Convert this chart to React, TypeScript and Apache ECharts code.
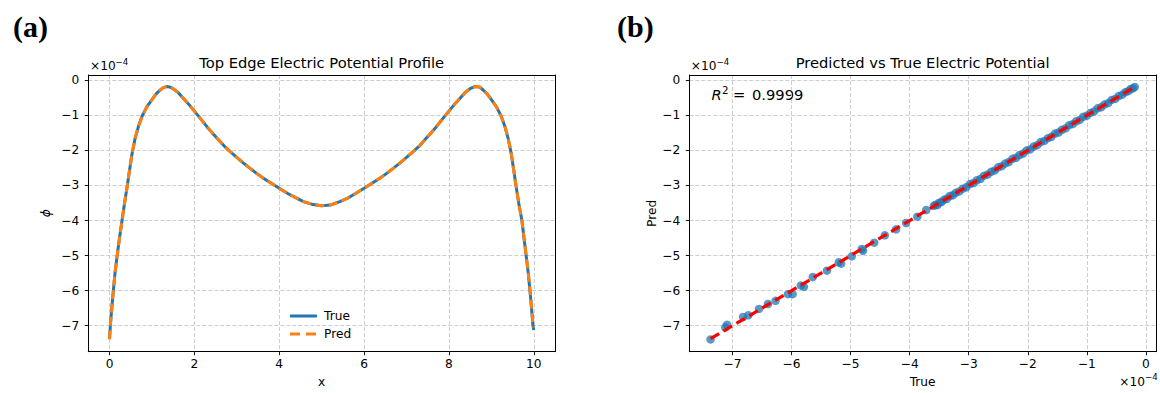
import React, { useEffect, useRef } from 'react';
import * as echarts from 'echarts';

// ---- Data (values in units of 1e-4) ----
const profileX = [0, 0.02, 0.05, 0.09, 0.13, 0.18, 0.235, 0.295, 0.355, 0.42, 0.47, 0.53, 0.6, 0.68, 0.77, 0.88, 1.0, 1.1, 1.2, 1.27, 1.34, 1.42, 1.5, 1.6, 1.7, 1.85, 2.0, 2.15, 2.3, 2.45, 2.6, 2.7, 2.81, 3.0, 3.15, 3.3, 3.45, 3.6, 3.73, 3.87, 4.0, 4.2, 4.4, 4.57, 4.8, 5.0,
  5.2, 5.43, 5.6, 5.8, 6.0, 6.13, 6.27, 6.4, 6.55, 6.7, 6.85, 7.0, 7.19, 7.3, 7.4, 7.55, 7.7, 7.85, 8.0, 8.15, 8.3, 8.4, 8.5, 8.58, 8.66, 8.73, 8.8, 8.9, 9.0, 9.12, 9.23, 9.32, 9.4, 9.47, 9.53, 9.58, 9.645, 9.72, 9.77, 9.82, 9.87, 9.91, 9.95, 9.98, 10.0];
const profileTrue = [-7.37, -7.0, -6.55, -6.0, -5.5, -5.0, -4.5, -4.0, -3.5, -3.0, -2.58, -2.1, -1.68, -1.32, -1.02, -0.76, -0.55, -0.39, -0.27, -0.21, -0.18, -0.195, -0.24, -0.33, -0.46, -0.66, -0.88, -1.1, -1.33, -1.54, -1.74, -1.87, -2.0, -2.2, -2.355, -2.5, -2.64, -2.77, -2.875, -2.98, -3.08, -3.23, -3.355, -3.46, -3.545, -3.58,
  -3.56, -3.46, -3.37, -3.23, -3.08, -2.98, -2.87, -2.77, -2.64, -2.5, -2.355, -2.2, -2.0, -1.88, -1.74, -1.54, -1.33, -1.1, -0.88, -0.66, -0.46, -0.33, -0.24, -0.195, -0.18, -0.2, -0.27, -0.39, -0.55, -0.76, -1.02, -1.32, -1.68, -2.1, -2.58, -3.0, -3.5, -4.0, -4.5, -5.0, -5.5, -6.0, -6.55, -7.0, -7.12];
const profilePred = [-7.39, -6.98, -6.56, -6.01, -5.49, -5.0, -4.51, -4.0, -3.49, -3.0, -2.59, -2.1, -1.67, -1.32, -1.02, -0.76, -0.55, -0.39, -0.27, -0.21, -0.18, -0.195, -0.24, -0.33, -0.46, -0.66, -0.88, -1.1, -1.33, -1.54, -1.74, -1.87, -2.0, -2.2, -2.355, -2.5, -2.64, -2.77, -2.875, -2.98, -3.08, -3.23, -3.355, -3.46, -3.545, -3.58,
  -3.56, -3.46, -3.37, -3.23, -3.08, -2.98, -2.87, -2.77, -2.64, -2.5, -2.355, -2.2, -2.0, -1.88, -1.74, -1.54, -1.33, -1.1, -0.88, -0.66, -0.46, -0.33, -0.24, -0.195, -0.18, -0.2, -0.27, -0.39, -0.55, -0.76, -1.02, -1.32, -1.68, -2.1, -2.58, -3.0, -3.5, -4.0, -4.5, -5.0, -5.49, -5.98, -6.5, -6.95, -7.05];

const scatterTrue = [
  -7.37, -7.12, -7.09, -6.82, -6.73, -6.55, -6.40, -6.27, -6.06, -5.98, -5.84, -5.79, -5.64, -5.40, -5.20, -5.16, -4.98, -4.81, -4.79, -4.60, -4.42, -4.23, -4.06, -3.87, -3.72, -3.59,
  -3.56, -3.53, -3.50, -3.46, -3.42, -3.37, -3.32, -3.27, -3.22, -3.16, -3.10, -3.04, -2.98, -2.92, -2.86, -2.80, -2.74, -2.68, -2.62, -2.56, -2.50, -2.44, -2.38, -2.32, -2.26, -2.20, -2.14, -2.08, -2.02, -1.96, -1.90, -1.84, -1.78, -1.72, -1.66, -1.60, -1.54, -1.48, -1.42, -1.36, -1.30, -1.24, -1.18, -1.12, -1.06, -1.00, -0.94, -0.88, -0.82, -0.76, -0.70, -0.64, -0.58, -0.52, -0.46, -0.40, -0.35, -0.30, -0.26, -0.22, -0.19,
];
const scatterPred = [
  -7.39, -7.05, -6.97, -6.75, -6.70, -6.52, -6.38, -6.29, -6.10, -6.10, -5.85, -5.89, -5.61, -5.43, -5.19, -5.23, -5.02, -4.81, -4.86, -4.63, -4.42, -4.25, -4.07, -3.89, -3.70, -3.58,
  -3.55, -3.56, -3.49, -3.47, -3.41, -3.38, -3.30, -3.28, -3.21, -3.17, -3.09, -3.05, -2.96, -2.93, -2.85, -2.81, -2.72, -2.69, -2.61, -2.57, -2.48, -2.45, -2.37, -2.33, -2.24, -2.21, -2.13, -2.09, -2.00, -1.97, -1.89, -1.85, -1.76, -1.73, -1.65, -1.61, -1.52, -1.49, -1.41, -1.37, -1.28, -1.25, -1.17, -1.13, -1.04, -1.01, -0.93, -0.89, -0.80, -0.77, -0.69, -0.65, -0.56, -0.53, -0.45, -0.41, -0.34, -0.31, -0.25, -0.23, -0.19,
];

const xTicksA = [0, 2, 4, 6, 8, 10];
const yTicks = [-7, -6, -5, -4, -3, -2, -1, 0];
const xTicksB = [-7, -6, -5, -4, -3, -2, -1, 0];
const legendNames = ['True', 'Pred'];
const r2Value = '0.9999';

const FONT = 'DejaVu Sans';
const TICK = 12.2;
const BLUE = '#1f77b4';
const ORANGE = '#ff7f0e';
const fmt = (v: number) => (v < 0 ? '\u2212' + Math.abs(v) : String(v));

const gridLine = { show: true, lineStyle: { color: '#c8c8c8', width: 0.9, type: [4, 2] } };
const axisLine = { show: true, onZero: false, lineStyle: { color: '#000', width: 1 } };
const tickStyle = (vals: number[]) => ({ show: true, inside: false, length: 3.5, customValues: vals, lineStyle: { color: '#000', width: 0.9 } });
const labelStyle = (vals: number[], margin: number) => ({ show: true, customValues: vals, formatter: fmt, color: '#000', fontSize: TICK, fontFamily: FONT, margin });
const nameStyle = { color: '#000', fontSize: TICK, fontFamily: FONT };
const spine = (gridIndex: number, position: string, min: number, max: number) => ({
  gridIndex, type: 'value', position, min, max, axisLine, axisTick: { show: false }, axisLabel: { show: false }, splitLine: { show: false },
});

function txt(x: number, y: number, text: string, size: number, extra: any = {}) {
  return {
    type: 'text', x, y, silent: true,
    style: { text, fill: '#000', fontSize: size, fontFamily: FONT, align: 'left', verticalAlign: 'middle', ...extra },
  };
}

export default function App() {
  const ref = useRef<HTMLDivElement>(null);
  useEffect(() => {
    if (!ref.current) return;
    const chart = echarts.init(ref.current, null, { renderer: 'svg' });
    const lo = Math.min(...scatterTrue);
    const hi = Math.max(...scatterTrue);
    const option: any = {
      animation: false,
      backgroundColor: '#fff',
      grid: [
        { left: 88.3, top: 75, width: 466.7, height: 276.7, outerBoundsMode: 'none' },
        { left: 689.3, top: 75, width: 466.7, height: 276.7, outerBoundsMode: 'none' },
      ],
      xAxis: [
        { gridIndex: 0, type: 'value', position: 'bottom', min: -0.5, max: 10.5, axisLine, axisTick: tickStyle(xTicksA), axisLabel: labelStyle(xTicksA, 6), splitLine: gridLine,
          name: 'x', nameLocation: 'middle', nameGap: 24, nameTextStyle: nameStyle },
        { gridIndex: 1, type: 'value', position: 'bottom', min: -7.73, max: 0.17, axisLine, axisTick: tickStyle(xTicksB), axisLabel: labelStyle(xTicksB, 6), splitLine: gridLine,
          name: 'True', nameLocation: 'middle', nameGap: 24, nameTextStyle: nameStyle },
        spine(0, 'top', -0.5, 10.5),
        spine(1, 'top', -7.73, 0.17),
      ],
      yAxis: [
        { gridIndex: 0, type: 'value', position: 'left', min: -7.74, max: 0.15, axisLine, axisTick: tickStyle(yTicks), axisLabel: labelStyle(yTicks, 9), splitLine: gridLine,
          name: '\u03d5', nameLocation: 'middle', nameRotate: 90, nameGap: 36, nameTextStyle: { ...nameStyle, fontStyle: 'italic' } },
        { gridIndex: 1, type: 'value', position: 'left', min: -7.74, max: 0.15, axisLine, axisTick: tickStyle(yTicks), axisLabel: labelStyle(yTicks, 9), splitLine: gridLine,
          name: 'Pred', nameLocation: 'middle', nameRotate: 90, nameGap: 30, nameTextStyle: nameStyle },
        spine(0, 'right', -7.74, 0.15),
        spine(1, 'right', -7.74, 0.15),
      ],
      series: [
        { type: 'line', name: legendNames[0], xAxisIndex: 0, yAxisIndex: 0, data: profileX.map((x, i) => [x, profileTrue[i]]), symbol: 'none',
          smooth: false, lineStyle: { color: BLUE, width: 3 }, itemStyle: { color: BLUE }, z: 3 },
        { type: 'line', name: legendNames[1], xAxisIndex: 0, yAxisIndex: 0, data: profileX.map((x, i) => [x, profilePred[i]]), symbol: 'none',
          smooth: false, lineStyle: { color: ORANGE, width: 3, type: [9, 4.5] }, itemStyle: { color: ORANGE }, z: 4 },
        { type: 'scatter', name: 'Points', xAxisIndex: 1, yAxisIndex: 1, data: scatterTrue.map((t, i) => [t, scatterPred[i]]),
          symbol: 'circle', symbolSize: 8.5, itemStyle: { color: BLUE, opacity: 0.75 }, z: 3 },
        { type: 'line', name: 'Ideal', xAxisIndex: 1, yAxisIndex: 1, data: [[lo, lo], [hi, hi]], symbol: 'none',
          lineStyle: { color: '#ff0000', width: 3.2, type: [10, 5] }, z: 5 },
      ],
      graphic: [
        txt(13, 26.7, '(a)', 30, { fontFamily: 'Liberation Serif', fontWeight: 'bold' }),
        txt(617, 26.7, '(b)', 30, { fontFamily: 'Liberation Serif', fontWeight: 'bold' }),
        txt(321.6, 62, 'Top Edge Electric Potential Profile', 14.7, { align: 'center' }),
        txt(922.6, 62, 'Predicted vs True Electric Potential', 14.7, { align: 'center' }),
        txt(90, 66, '\u00d710', TICK),
        txt(115.5, 61.5, '\u22124', 8.6),
        txt(690.7, 66, '\u00d710', TICK),
        txt(716.5, 61.5, '\u22124', 8.6),
        txt(1119.3, 382, '\u00d710', TICK),
        txt(1145, 376.5, '\u22124', 8.6),
        txt(711.5, 94.7, 'R', 14.7, { fontStyle: 'italic' }),
        txt(722, 90, '2', 10.3),
        txt(733, 94.7, '=', 14.7),
        txt(752, 94.7, r2Value, 14.7),
        // legend
        { type: 'line', silent: true, shape: { x1: 290, y1: 316, x2: 317, y2: 316 }, style: { stroke: BLUE, lineWidth: 3 } },
        { type: 'line', silent: true, shape: { x1: 290, y1: 334, x2: 317, y2: 334 }, style: { stroke: ORANGE, lineWidth: 3, lineDash: [10, 6] } },
        txt(324, 316, legendNames[0], TICK),
        txt(324, 334, legendNames[1], TICK),
      ],
    };
    chart.setOption(option);
    return () => chart.dispose();
  }, []);
  return <div ref={ref} style={{ position: 'fixed', left: 0, top: 0, width: 1160, height: 393, background: '#fff' }} />;
}
